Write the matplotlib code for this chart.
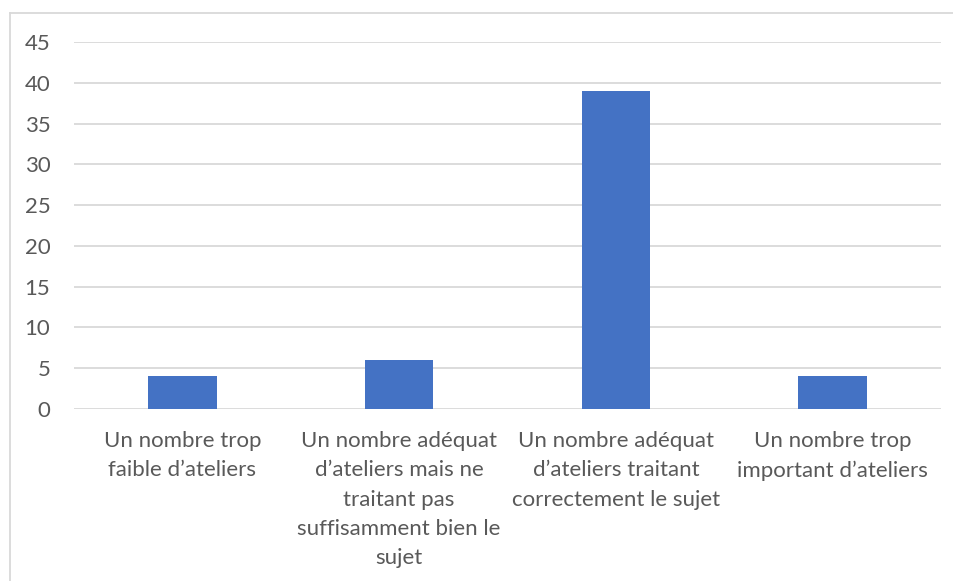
import matplotlib.pyplot as plt
from matplotlib.lines import Line2D

categories = [
    "Un nombre trop\nfaible d\u2019ateliers",
    "Un nombre adéquat\nd\u2019ateliers mais ne\ntraitant pas\nsuffisamment bien le\nsujet",
    "Un nombre adéquat\nd\u2019ateliers traitant\ncorrectement le sujet",
    "Un nombre trop\nimportant d\u2019ateliers",
]
values = [4, 6, 39, 4]
yticks = [0, 5, 10, 15, 20, 25, 30, 35, 40, 45]

plt.rcParams['font.family'] = ['Lato', 'DejaVu Sans']
text_color = '#595959'
grid_color = '#d9d9d9'

W, H = 954, 581
fig = plt.figure(figsize=(W / 100, H / 100), dpi=100)
ax = fig.add_axes([74 / W, 1 - 409 / H, (941 - 74) / W, (409 - 42) / H])

x = range(len(categories))
ax.bar(x, values, width=0.315, color='#4472c4', zorder=3)

ax.set_xlim(-0.5, len(categories) - 0.5)
ax.set_ylim(0, 45)
ax.set_yticks(yticks)
ax.set_yticklabels([str(v) for v in yticks])
ax.set_xticks(list(x))
ax.set_xticklabels(categories, linespacing=1.575)

for v in yticks:
    ax.axhline(v, color=grid_color, lw=1.3, zorder=1)

for s in ax.spines.values():
    s.set_visible(False)
ax.tick_params(axis='both', length=0, colors=text_color, labelsize=16)
ax.tick_params(axis='y', pad=17)
ax.tick_params(axis='x', pad=16)

# chart frame (top and left edges)
fig.add_artist(Line2D([10 / W, 1], [1 - 13 / H, 1 - 13 / H], color=grid_color, lw=1.3))
fig.add_artist(Line2D([10 / W, 10 / W], [0, 1 - 13 / H], color=grid_color, lw=1.3))

fig.savefig('out.png', dpi=100, facecolor='white')
